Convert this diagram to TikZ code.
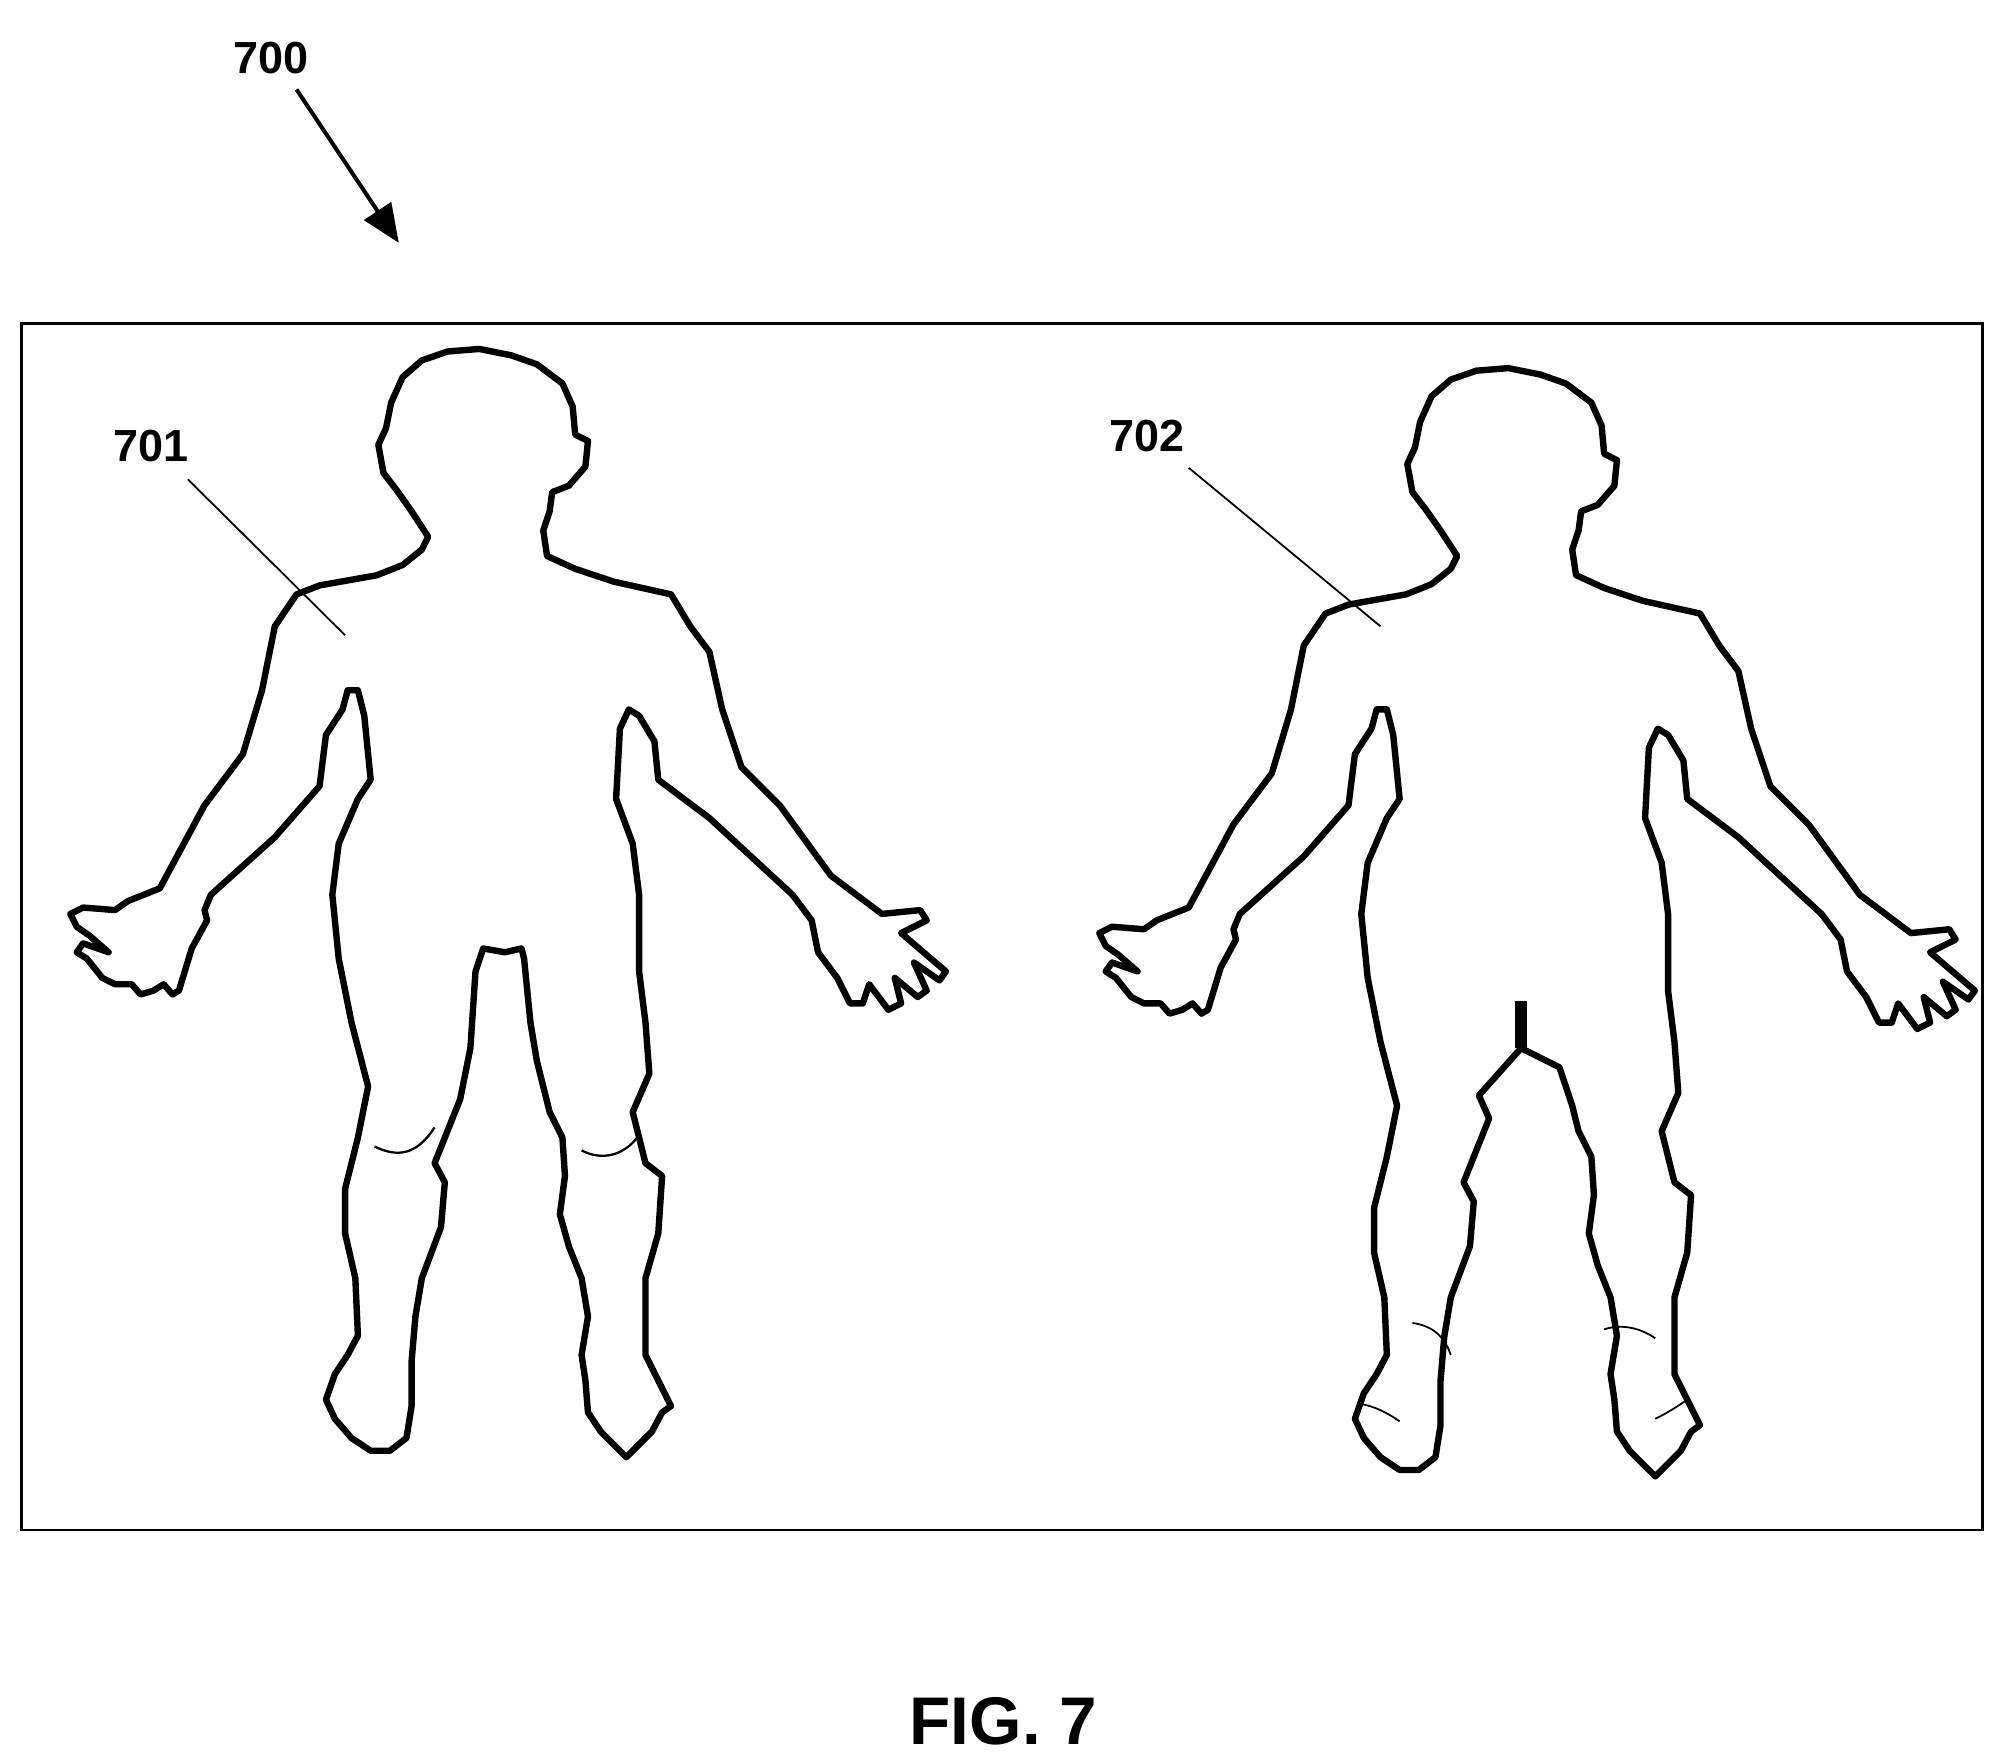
\documentclass[tikz,border=0pt]{standalone}
\usepackage{fontspec}
\setmainfont{Liberation Sans}
\usetikzlibrary{arrows.meta}
\begin{document}
\begin{tikzpicture}[x=0.01cm,y=-0.01cm,
  body/.style={line width=0.05cm,line join=round},
  lbl/.style={font=\bfseries\fontsize{10}{12}\selectfont},
  lead/.style={line width=0.4pt}]
\useasboundingbox (0,0) rectangle (1560,1375);
\draw[line width=0.6pt] (17,253) rectangle (1551,1197);
\node[lbl] (n700) at (212,45) {700};
\coordinate (a700) at (312,190);
\draw[line width=0.9pt,-{Triangle[length=0.3cm,width=0.25cm]}] (232,70) -- (a700);
\node[lbl] (n701) at (118,349) {701};
\coordinate (p701) at (270,497);
\draw[lead] (147,375) -- (p701);
\node[lbl] (n702) at (897,341) {702};
\coordinate (p702) at (1080,490);
\draw[lead] (930,366) -- (p702);
\node[font=\bfseries\fontsize{15}{18}\selectfont] (fig) at (785,1347) {FIG. 7};
\newcommand\bodypath[1]{%
\draw[body] (335,420)--(322,400)--(310,383)--(300,370)--(296,348)--(302,335)--(306,315)--(315,295)--(330,282)--(350,275)--(375,273)--(400,278)--(420,285)--(440,300)--(448,318)--(450,340)--(460,345)--(458,365)--(445,380)--(432,385)--(430,400)--(425,415)--(428,435)--(450,445)--(480,455)--(525,465)--(540,490)--(555,510)--(565,555)--(580,600)--(610,630)--(650,685)--(690,715)--(720,712)--(725,720)--(705,730)--(740,760)--(735,767)--(715,753)--(725,775)--(718,780)--(700,765)--(705,785)--(695,790)--(680,770)--(675,785)--(665,785)--(655,765)--(640,745)--(635,720)--(620,700)--(555,640)--(515,610)--(512,580)--(500,560)--(492,555)--(485,570)--(482,625)--(495,660)--(500,700)--(500,760)--(505,800)--(508,840)--(495,870)--(505,910)--(518,920)--(515,965)--(505,1000)--(505,1060)--(515,1080)--(525,1100)--(518,1105)--(510,1120)--(500,1130)--(490,1140)--(480,1130)--(470,1120)--(460,1105)--(458,1080)--(455,1060)--(460,1030)--(455,1000)--(445,975)--(438,950)--(442,920)--(440,890)--(430,870)--(425,850)#1--(360,860)--(340,910)--(348,925)--(345,960)--(330,1000)--(325,1030)--(322,1065)--(322,1100)--(318,1125)--(305,1135)--(290,1135)--(275,1125)--(262,1110)--(255,1095)--(262,1075)--(272,1060)--(280,1045)--(278,1000)--(270,965)--(270,930)--(280,890)--(288,850)--(275,800)--(265,750)--(260,700)--(265,660)--(280,625)--(290,610)--(285,560)--(280,540)--(272,540)--(268,555)--(255,575)--(250,615)--(215,655)--(165,700)--(160,712)--(162,720)--(150,742)--(140,775)--(135,778)--(128,770)--(120,775)--(110,778)--(103,770)--(90,770)--(80,765)--(68,750)--(60,745)--(65,738)--(85,745)--(70,732)--(60,725)--(55,715)--(65,710)--(90,712)--(100,705)--(125,695)--(160,630)--(190,590)--(205,540)--(215,490)--(232,465)--(250,458)--(295,450)--(315,442)--(330,430)--cycle;}
\bodypath{--(420,830)--(415,800)--(410,750)--(408,742)--(395,745)--(378,742)--(372,760)--(368,820)}
\draw[line width=0.5pt] (293,897) .. controls (310,905) and (325,905) .. (340,882);
\draw[line width=0.5pt] (455,900) .. controls (470,908) and (488,905) .. (500,888);
\begin{scope}[shift={(805,15)}]
\bodypath{--(415,820)--(385,805)--(352,842)}
\draw[line width=0.1cm] (385,805) -- (385,768);
\draw[line width=0.4pt] (300,1020) .. controls (315,1022) and (325,1030) .. (330,1045);
\draw[line width=0.4pt] (450,1025) .. controls (465,1020) and (480,1025) .. (490,1032);
\draw[line width=0.4pt] (258,1083) .. controls (270,1085) and (280,1090) .. (290,1097);
\draw[line width=0.4pt] (490,1095) .. controls (500,1090) and (508,1085) .. (515,1080);
\end{scope}
\end{tikzpicture}
\end{document}
